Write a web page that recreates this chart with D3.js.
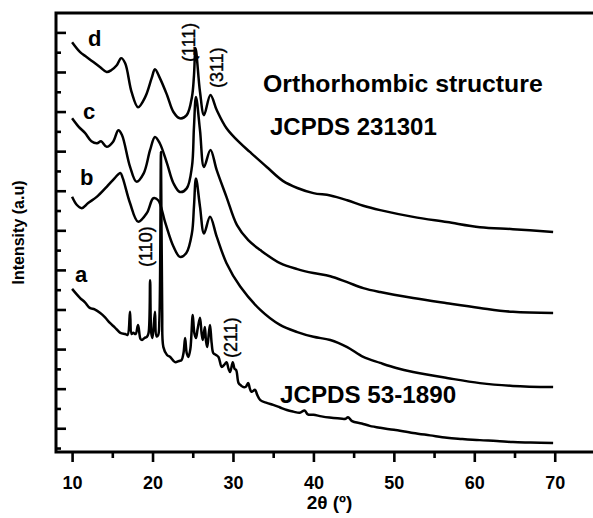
<!DOCTYPE html>
<html>
<head>
<meta charset="utf-8">
<script src="https://cdn.jsdelivr.net/npm/d3@7"></script>
<style>
  body { margin: 0; background: #fff; }
  svg { display: block; font-family: "Liberation Sans", Arial, Helvetica, sans-serif; }
</style>
</head>
<body>
<svg id="chart" width="593" height="518"></svg>
<script>
// 2θ tick labels
const xTicks = [10, 20, 30, 40, 50, 60, 70];

// Pattern a — JCPDS 53-1890 reflections
const thetaA = [10.0, 10.5, 11.0, 11.6, 12.2, 12.8, 13.5, 14.1, 14.7, 15.3, 16.0, 16.6, 16.9, 17.2, 17.4, 17.6, 17.9, 18.2, 18.5, 18.7,
  19.0, 19.3, 19.5, 19.7, 19.85, 20.0, 20.3, 20.5, 20.7, 20.85, 21.05, 21.2, 21.35, 21.8, 22.2, 22.8, 23.3, 23.6, 23.85, 24.05,
  24.25, 24.46, 24.7, 25.0, 25.2, 25.4, 25.6, 25.9, 26.1, 26.25, 26.5, 26.65, 26.8, 27.0, 27.15, 27.35, 27.56, 27.9, 28.2, 28.6,
  28.9, 29.2, 29.45, 29.65, 29.97, 30.2, 30.4, 30.7, 31.0, 31.3, 31.6, 31.9, 32.1, 32.3, 32.75, 33.0, 33.4, 34.2, 35.0, 35.8,
  36.7, 37.5, 38.3, 38.9, 39.3, 40.0, 41.0, 42.0, 43.0, 44.0, 44.3, 44.8, 46.0, 47.0, 48.3, 50.0, 52.4, 54.5, 56.6, 58.5,
  60.7, 62.8, 64.8, 67.0, 69.8];
const intensityA = [352, 340, 329, 318, 304, 300, 291, 280, 266, 255, 241, 238, 236, 294, 238, 241, 238, 261, 226, 223,
  228, 231, 240, 374, 240, 228, 294, 232, 235, 273, 698, 300, 205, 185, 180, 167, 170, 172, 190, 228,
  190, 180, 200, 286, 240, 228, 250, 279, 240, 223, 256, 220, 205, 240, 261, 215, 190, 185, 180, 155,
  160, 167, 150, 142, 167, 150, 147, 114, 108, 104, 105, 114, 100, 92, 97, 85, 71, 64, 59, 53,
  46, 42, 39, 45, 35, 34, 30, 27, 25, 24, 28, 18, 12, 6, 1, -4, -12, -18, -24, -27,
  -30, -32, -35, -36, -37];

// Pattern b
const thetaB = [10.0, 10.6, 11.2, 12.0, 13.1, 14.3, 15.3, 16.0, 16.3, 17.2, 18.2, 19.3, 20.1, 20.7, 21.6, 22.6, 23.4, 24.2, 24.9, 25.15,
  25.4, 25.9, 26.4, 27.15, 27.98, 29.2, 30.9, 33.4, 35.85, 38.0, 40.0, 42.1, 44.2, 46.2, 48.3, 50.3, 52.4, 56.6, 60.7, 64.8, 69.8];
const intensityB = [585, 564, 556, 569, 585, 610, 632, 645, 632, 569, 522, 544, 581, 576, 518, 459, 433, 443, 493, 560,
  631, 560, 492, 534, 484, 417, 358, 299, 261, 243, 231, 223, 205, 180, 165, 152, 142, 127, 114, 107, 104];

// Pattern c
const thetaC = [10.0, 10.8, 11.6, 12.4, 13.1, 13.6, 14.3, 15.1, 15.75, 16.2, 17.2, 18.0, 18.9, 19.7, 20.3, 20.9, 21.8, 22.6, 23.4, 24.25,
  24.9, 25.15, 25.4, 25.9, 26.4, 27.2, 27.98, 29.2, 30.5, 31.9, 33.4, 35.85, 38.0, 40.0, 42.1, 44.2, 46.2, 48.3, 52.4, 56.6, 60.7, 64.8, 69.8];
const intensityC = [783, 762, 746, 725, 720, 725, 711, 724, 753, 741, 661, 623, 644, 703, 736, 720, 669, 619, 597, 606,
  661, 760, 837, 753, 660, 703, 652, 584, 513, 475, 450, 417, 402, 392, 384, 369, 354, 344, 329, 316, 304, 294, 291];

// Pattern d
const thetaD = [10.0, 11.0, 11.8, 12.65, 13.5, 14.3, 14.9, 15.55, 16.1, 16.6, 17.4, 18.2, 19.1, 19.9, 20.3, 20.9, 21.8, 22.6, 23.4, 24.25,
  24.9, 25.15, 25.35, 25.9, 26.4, 27.2, 27.98, 29.2, 30.9, 32.1, 34.2, 36.2, 38.0, 40.0, 42.1, 44.2, 46.2, 48.3, 52.4, 56.6, 60.7, 64.8, 69.8];
const intensityD = [975, 950, 938, 925, 912, 900, 905, 917, 935, 922, 849, 811, 837, 885, 907, 885, 842, 799, 783, 791,
  837, 890, 960, 850, 791, 842, 804, 758, 720, 698, 660, 625, 607, 594, 588, 576, 562, 551, 534, 521, 508, 503, 496];

const seriesNames = ["a", "b", "c", "d"];
const planeLabels = ["(111)", "(311)", "(110)", "(211)"];
const notes = ["Orthorhombic structure", "JCPDS 231301", "JCPDS 53-1890"];

const svg = d3.select("#chart");
const plotLeft = 56, plotRight = 603, plotTop = 13, plotBottom = 452;

const x = d3.scaleLinear().domain([8, 76]).range([plotLeft, plotRight]);
const y = d3.scaleLinear().domain([-60, 1049]).range([plotBottom, plotTop]);

// frame
svg.append("rect")
  .attr("x", plotLeft).attr("y", plotTop)
  .attr("width", plotRight - plotLeft).attr("height", plotBottom - plotTop)
  .attr("fill", "none").attr("stroke", "#000").attr("stroke-width", 3);

// x axis: major and minor ticks pointing outward
const xAxisG = svg.append("g").attr("transform", `translate(0,${plotBottom})`);
xAxisG.call(d3.axisBottom(x).tickValues(xTicks).tickSize(10).tickPadding(14).tickFormat(d3.format("d")))
  .call(g => g.select(".domain").remove());
xAxisG.selectAll(".tick line").attr("stroke", "#000").attr("stroke-width", 2.6);
xAxisG.selectAll(".tick text").attr("font-size", 18).attr("font-weight", "bold").attr("fill", "#000")
  .attr("font-family", "Liberation Sans, Arial, sans-serif");
const xMinorG = svg.append("g").attr("transform", `translate(0,${plotBottom})`);
xMinorG.call(d3.axisBottom(x).tickValues(d3.range(15, 76, 10)).tickSize(6).tickFormat(""))
  .call(g => g.select(".domain").remove());
xMinorG.selectAll(".tick line").attr("stroke", "#000").attr("stroke-width", 2.6);

// y axis: unlabeled ticks pointing inward
const yMajor = d3.range(0, 1001, 100);
const yMinor = d3.range(-50, 1001, 100);
const yAxisG = svg.append("g").attr("transform", `translate(${plotLeft},0)`);
yAxisG.call(d3.axisRight(y).tickValues(yMajor).tickSize(10).tickFormat(""))
  .call(g => g.select(".domain").remove());
yAxisG.selectAll(".tick line").attr("stroke", "#000").attr("stroke-width", 2.6);
const yMinorG = svg.append("g").attr("transform", `translate(${plotLeft},0)`);
yMinorG.call(d3.axisRight(y).tickValues(yMinor).tickSize(5).tickFormat(""))
  .call(g => g.select(".domain").remove());
yMinorG.selectAll(".tick line").attr("stroke", "#000").attr("stroke-width", 2.6);

// diffraction patterns
const line = d3.line()
  .x(d => x(d[0])).y(d => y(d[1]))
  .curve(d3.curveCatmullRom.alpha(0.5));
const patterns = [
  [thetaA, intensityA],
  [thetaB, intensityB],
  [thetaC, intensityC],
  [thetaD, intensityD]
];
patterns.forEach(([t, v]) => {
  svg.append("path")
    .datum(t.map((d, i) => [d, v[i]]))
    .attr("d", line)
    .attr("fill", "none")
    .attr("stroke", "#000")
    .attr("stroke-width", 2.5)
    .attr("stroke-linejoin", "round");
});

// pattern letters
const letterPos = [[75, 282], [80, 185], [83, 119], [88, 46]];
seriesNames.forEach((s, i) => {
  svg.append("text").attr("x", letterPos[i][0]).attr("y", letterPos[i][1])
    .attr("font-size", 22).attr("font-weight", "bold").text(s);
});

// plane indices, written vertically
const planePos = [[195, 62], [223, 88], [152, 267], [237, 358]];
planeLabels.forEach((p, i) => {
  svg.append("text")
    .attr("transform", `translate(${planePos[i][0]},${planePos[i][1]}) rotate(-90)`)
    .attr("font-size", 18)
    .attr("stroke", "#000").attr("stroke-width", 0.4)
    .text(p);
});

// reference notes
const notePos = [[263, 92], [270, 135], [280, 403]];
const noteSize = [24.8, 24, 24.2];
notes.forEach((n, i) => {
  svg.append("text").attr("x", notePos[i][0]).attr("y", notePos[i][1])
    .attr("font-size", noteSize[i]).attr("font-weight", "bold").text(n);
});

// axis titles
svg.append("text").attr("x", (plotLeft + plotRight) / 2).attr("y", 509)
  .attr("text-anchor", "middle").attr("font-size", 19).attr("font-weight", "bold")
  .text("2θ (º)");
svg.append("text")
  .attr("transform", `translate(24,${(plotTop + plotBottom) / 2}) rotate(-90)`)
  .attr("text-anchor", "middle").attr("font-size", 16).attr("font-weight", "bold")
  .text("Intensity (a.u)");
</script>
</body>
</html>
